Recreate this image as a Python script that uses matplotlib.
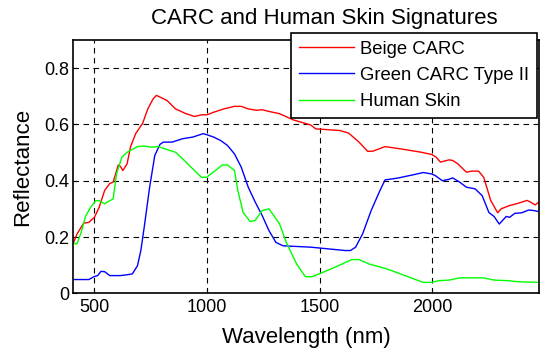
import matplotlib
matplotlib.use("Agg")
import matplotlib.pyplot as plt

plt.rcParams['font.family'] = ['Liberation Sans', 'DejaVu Sans']

beige_x = [406, 422, 452, 475, 500, 521, 545, 568, 583, 606, 616, 626, 645, 660, 683, 714, 737, 760, 775,
           791, 822, 860, 906, 945, 975, 1000, 1029, 1075, 1122, 1152, 1183, 1221, 1245, 1275, 1322, 1383,
           1460, 1483, 1521, 1591, 1629, 1675, 1714, 1737, 1791, 1860, 1952, 1998, 2017, 2037, 2075, 2091,
           2114, 2152, 2175, 2206, 2229, 2260, 2291, 2306, 2344, 2383, 2421, 2437, 2457, 2475]
beige_y = [0.178, 0.21, 0.249, 0.252, 0.27, 0.306, 0.365, 0.39, 0.395, 0.456, 0.45, 0.436, 0.46, 0.52, 0.567,
           0.604, 0.655, 0.69, 0.703, 0.697, 0.685, 0.655, 0.638, 0.628, 0.634, 0.634, 0.643, 0.655, 0.664,
           0.664, 0.655, 0.65, 0.652, 0.646, 0.638, 0.616, 0.598, 0.584, 0.582, 0.578, 0.569, 0.537, 0.504,
           0.505, 0.521, 0.513, 0.501, 0.493, 0.484, 0.466, 0.474, 0.472, 0.46, 0.43, 0.434, 0.434, 0.412,
           0.33, 0.286, 0.30, 0.312, 0.32, 0.33, 0.324, 0.314, 0.324]

green_carc_x = [406, 475, 500, 514, 529, 545, 568, 614, 645, 668, 691, 706, 721, 745, 768, 791, 806, 845, 891,
                937, 983, 1000, 1029, 1060, 1091, 1122, 1152, 1183, 1214, 1245, 1275, 1306, 1337, 1383, 1460,
                1537, 1614, 1637, 1660, 1691, 1729, 1768, 1791, 1845, 1922, 1960, 1998, 2014, 2045, 2075, 2091,
                2122, 2152, 2191, 2222, 2252, 2275, 2298, 2329, 2344, 2367, 2398, 2429, 2452, 2475]
green_carc_y = [0.049, 0.049, 0.06, 0.063, 0.078, 0.077, 0.063, 0.063, 0.066, 0.069, 0.098, 0.152, 0.235,
                0.377, 0.49, 0.529, 0.537, 0.537, 0.549, 0.555, 0.567, 0.563, 0.555, 0.543, 0.525, 0.495,
                0.448, 0.377, 0.324, 0.276, 0.223, 0.181, 0.169, 0.167, 0.164, 0.158, 0.152, 0.152, 0.164,
                0.211, 0.294, 0.365, 0.403, 0.409, 0.422, 0.429, 0.424, 0.418, 0.40, 0.405, 0.41, 0.395,
                0.377, 0.371, 0.347, 0.287, 0.273, 0.246, 0.273, 0.270, 0.284, 0.286, 0.296, 0.294, 0.29]

skin_x = [406, 422, 442, 460, 483, 506, 521, 545, 568, 583, 598, 622, 645, 691, 721, 752, 783, 814, 860, 891,
          929, 952, 975, 998, 1037, 1068, 1091, 1122, 1137, 1160, 1191, 1214, 1245, 1275, 1291, 1322, 1352,
          1398, 1437, 1467, 1552, 1644, 1675, 1721, 1798, 1960, 1998, 2029, 2075, 2122, 2229, 2275, 2337,
          2383, 2475]
skin_y = [0.178, 0.175, 0.219, 0.273, 0.306, 0.329, 0.329, 0.318, 0.329, 0.335, 0.424, 0.484, 0.501, 0.521,
          0.523, 0.519, 0.521, 0.513, 0.501, 0.478, 0.448, 0.43, 0.412, 0.412, 0.436, 0.456, 0.456, 0.436,
          0.365, 0.288, 0.255, 0.259, 0.294, 0.30, 0.282, 0.247, 0.181, 0.104, 0.059, 0.059, 0.087, 0.12,
          0.12, 0.104, 0.087, 0.039, 0.039, 0.045, 0.047, 0.055, 0.055, 0.047, 0.045, 0.041, 0.039]

series_labels = ["Beige CARC", "Green CARC Type II", "Human Skin"]
x_ticks = [500, 1000, 1500, 2000]
y_ticks = [0, 0.2, 0.4, 0.6, 0.8]
y_tick_labels = ["0", "0.2", "0.4", "0.6", "0.8"]

fig = plt.figure(figsize=(5.41, 3.53), dpi=100)
ax = fig.add_axes([0.1355, 0.169, 0.861, 0.718])

ax.plot(beige_x, beige_y, color=(1, 0, 0), lw=1.0, label=series_labels[0])
ax.plot(green_carc_x, green_carc_y, color=(0, 0, 1), lw=1.0, label=series_labels[1])
ax.plot(skin_x, skin_y, color=(0, 1, 0), lw=1.0, label=series_labels[2])

ax.set_xlim(406, 2475)
ax.set_ylim(0, 0.9)
ax.set_xticks(x_ticks)
ax.set_xticklabels([str(t) for t in x_ticks])
ax.set_yticks(y_ticks)
ax.set_yticklabels(y_tick_labels)
ax.tick_params(direction='in', length=3, labelsize=13, colors='black')
ax.tick_params(axis='x', pad=4)
ax.tick_params(axis='y', pad=3)
ax.grid(True, color='black', linestyle=(0, (5, 4)), linewidth=0.8)
for s in ax.spines.values():
    s.set_linewidth(1.2)
    s.set_color('black')

ax.set_xlabel("Wavelength (nm)", fontsize=16, labelpad=8)
ax.set_ylabel("Reflectance", fontsize=16, labelpad=8)
fig.text(0.599, 0.948, "CARC and Human Skin Signatures", fontsize=16, ha='center', va='center')

leg = ax.legend(loc='upper right', bbox_to_anchor=(0.993, 0.907), bbox_transform=fig.transFigure,
                fontsize=13.3, frameon=True, fancybox=False, framealpha=1, edgecolor='black',
                handlelength=3.0, handletextpad=0.33, borderpad=0.42, labelspacing=0.5, borderaxespad=0)
leg.get_frame().set_linewidth(1.2)
leg.set_zorder(10)

fig.savefig("out.png", dpi=100)
